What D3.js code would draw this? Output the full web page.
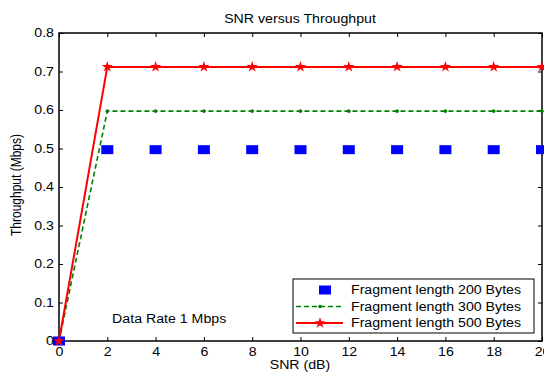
<!DOCTYPE html>
<html>
<head>
<meta charset="utf-8">
<script src="https://cdn.jsdelivr.net/npm/d3@7"></script>
<style>
  body { margin: 0; background: #fff; }
  svg { display: block; font-family: "Liberation Sans", Arial, sans-serif; }
  .tick text { font-size: 12px; fill: #000; }
</style>
</head>
<body>
<svg width="544" height="373"></svg>
<script>
const snr = [0, 2, 4, 6, 8, 10, 12, 14, 16, 18, 20];
const frag200 = [0, 0.497, 0.497, 0.497, 0.497, 0.497, 0.497, 0.497, 0.497, 0.497, 0.497];
const frag300 = [0, 0.597, 0.597, 0.597, 0.597, 0.597, 0.597, 0.597, 0.597, 0.597, 0.597];
const frag500 = [0, 0.712, 0.712, 0.712, 0.712, 0.712, 0.712, 0.712, 0.712, 0.712, 0.712];
const yTicks = [0, 0.1, 0.2, 0.3, 0.4, 0.5, 0.6, 0.7, 0.8];
const legendLabels = ["Fragment length 200 Bytes", "Fragment length 300 Bytes", "Fragment length 500 Bytes"];

const svg = d3.select('svg');
const margin = { top: 33, right: 2, bottom: 32, left: 59 };
const width = 544, height = 373;
const innerWidth = width - margin.left - margin.right;
const innerHeight = height - margin.top - margin.bottom;
// the figure text is a bit wide, stretch it horizontally
const sx = 1.18;
const stretch = sel => sel.each(function () {
  const len = this.getComputedTextLength();
  d3.select(this).attr('textLength', len * sx).attr('lengthAdjust', 'spacingAndGlyphs');
});

const xScale = d3.scaleLinear().domain([0, 20]).range([0, innerWidth]);
const yScale = d3.scaleLinear().domain([0, 0.8]).range([innerHeight, 0]);

const g = svg.append('g')
  .attr('transform', `translate(${margin.left},${margin.top})`);

g.append('rect')
  .attr('width', innerWidth).attr('height', innerHeight)
  .attr('fill', '#fff');

// axes with inward ticks, MATLAB style
const fmtY = d => d === 0 ? '0' : d3.format('.1f')(d);
const xAxis = d3.axisBottom(xScale).tickValues(snr).tickSize(-4).tickPadding(6);
const yAxis = d3.axisLeft(yScale).tickValues(yTicks).tickFormat(fmtY).tickSize(-4).tickPadding(5);

const xAxisG = g.append('g').attr('transform', `translate(0,${innerHeight})`).call(xAxis);
const yAxisG = g.append('g').call(yAxis);
const topG = g.append('g').call(d3.axisTop(xScale).tickValues(snr).tickSize(-4).tickFormat(''));
const rightG = g.append('g').attr('transform', `translate(${innerWidth},0)`)
  .call(d3.axisRight(yScale).tickValues(yTicks).tickSize(-4).tickFormat(''));
topG.selectAll('text').remove();
rightG.selectAll('text').remove();
g.selectAll('.domain').remove();
g.selectAll('.tick line').attr('stroke', '#000');
xAxisG.selectAll('text').attr('dy', '0.71em').call(stretch);
yAxisG.selectAll('text').call(stretch);

g.append('rect')
  .attr('width', innerWidth).attr('height', innerHeight)
  .attr('fill', 'none').attr('stroke', '#000').attr('stroke-width', 1.5);

// series
const line = d3.line().x((d, i) => xScale(snr[i])).y(d => yScale(d));

g.append('path').datum(frag300)
  .attr('d', line).attr('fill', 'none')
  .attr('stroke', '#008000').attr('stroke-width', 1.6).attr('stroke-dasharray', '5,3');
g.selectAll('.dot300').data(frag300).enter().append('circle')
  .attr('cx', (d, i) => xScale(snr[i])).attr('cy', d => yScale(d))
  .attr('r', 1.8).attr('fill', '#008000');

g.append('path').datum(frag500)
  .attr('d', line).attr('fill', 'none')
  .attr('stroke', '#ff0000').attr('stroke-width', 2);
const star = d3.symbol().type(d3.symbolStar).size(13);
g.selectAll('.mk500').data(frag500).enter().append('path')
  .attr('transform', (d, i) => `translate(${xScale(snr[i])},${yScale(d)})`)
  .attr('d', star).attr('fill', '#ff0000').attr('stroke', '#ff0000').attr('stroke-width', 1.5);

g.selectAll('.sq200').data(frag200).enter().append('rect')
  .attr('x', (d, i) => xScale(snr[i]) - 6).attr('y', d => yScale(d) - 4.5)
  .attr('width', 12).attr('height', 9).attr('fill', '#0000ff');

// red marker at origin sits on top of the blue square
g.append('path')
  .attr('transform', `translate(${xScale(snr[0])},${yScale(frag500[0])})`)
  .attr('d', star).attr('fill', '#ff0000').attr('stroke', '#ff0000').attr('stroke-width', 1.5);

// texts
const addText = (x, y, txt, anchor) => svg.append('text')
  .attr('x', x).attr('y', y)
  .attr('text-anchor', anchor || 'start')
  .attr('font-size', 12).text(txt).call(stretch);

addText(300, 23, 'SNR versus Throughput', 'middle');
addText(300, 369, 'SNR (dB)', 'middle');
svg.append('text')
  .attr('transform', `translate(21,185) scale(${sx},1) rotate(-90)`)
  .attr('text-anchor', 'middle').attr('font-size', 12).text('Throughput (Mbps)');
addText(margin.left + xScale(2.2), margin.top + yScale(0.057) + 4, 'Data Rate 1 Mbps');

// legend
const lx = 293, ly = 279;
svg.append('rect').attr('x', lx).attr('y', ly).attr('width', 241).attr('height', 54)
  .attr('fill', '#fff').attr('stroke', '#000').attr('stroke-width', 1);
legendLabels.forEach((t, i) => {
  const cy = ly + 11 + i * 16.5;
  if (i === 0) {
    svg.append('rect').attr('x', lx + 26).attr('y', cy - 4.5).attr('width', 12).attr('height', 9).attr('fill', '#0000ff');
  } else if (i === 1) {
    svg.append('line').attr('x1', lx + 3).attr('x2', lx + 50).attr('y1', cy).attr('y2', cy)
      .attr('stroke', '#008000').attr('stroke-width', 1.6).attr('stroke-dasharray', '5,3');
    svg.append('circle').attr('cx', lx + 27).attr('cy', cy).attr('r', 1.8).attr('fill', '#008000');
  } else {
    svg.append('line').attr('x1', lx + 3).attr('x2', lx + 50).attr('y1', cy).attr('y2', cy)
      .attr('stroke', '#ff0000').attr('stroke-width', 2);
    svg.append('path').attr('transform', `translate(${lx + 27},${cy})`).attr('d', star)
      .attr('fill', '#ff0000').attr('stroke', '#ff0000').attr('stroke-width', 1.5);
  }
  addText(lx + 58, cy + 4, t);
});
</script>
</body>
</html>
